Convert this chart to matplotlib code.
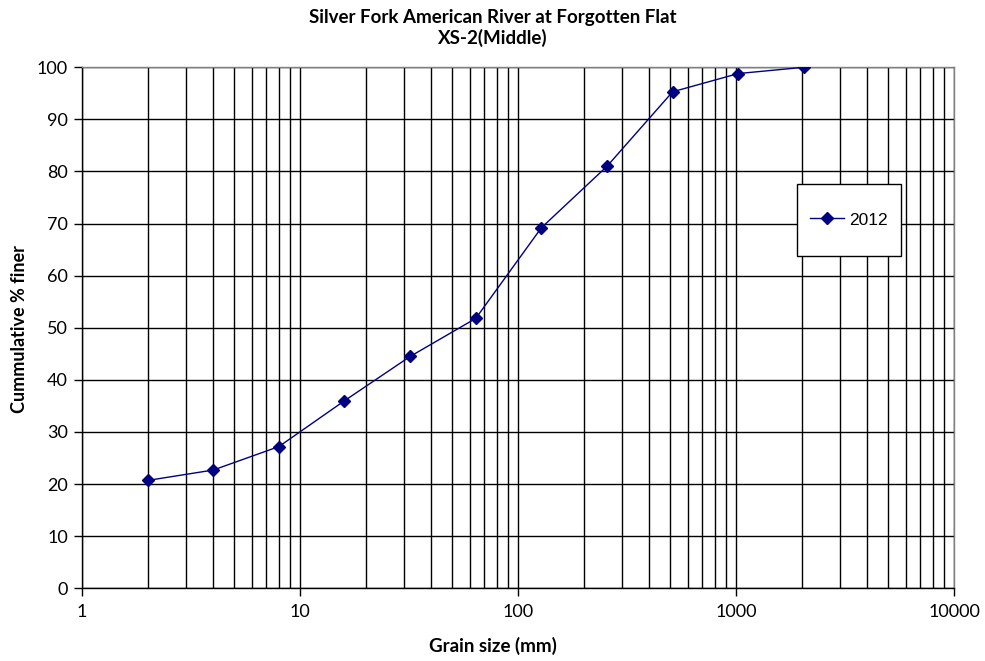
import matplotlib.pyplot as plt
from matplotlib.patches import Rectangle
from matplotlib.ticker import LogLocator, FixedLocator, NullFormatter

# grain size distribution, 2012 pebble count
grain_mm = [2, 4, 8, 16, 32, 64, 128, 256, 512, 1024, 2048]
pct_finer = [20.7, 22.7, 27.2, 36.0, 44.5, 51.8, 69.2, 81.0, 95.3, 98.8, 100.0]
series_name = '2012'
x_ticks = [1, 10, 100, 1000, 10000]
x_ticklabels = ['1', '10', '100', '1000', '10000']
y_ticks = list(range(0, 101, 10))

label_font = ['Lato', 'DejaVu Sans']
legend_font = ['Liberation Sans', 'DejaVu Sans']

fig = plt.figure(figsize=(9.85, 6.61), dpi=100)
ax = fig.add_axes([82 / 985, 1 - 588.3 / 661, (954 - 82) / 985, (588.3 - 67.3) / 661])

ax.set_xscale('log')
ax.set_xlim(1, 10000)
ax.set_ylim(0, 100)

ax.xaxis.set_major_locator(FixedLocator(x_ticks))
ax.set_xticks(x_ticks)
ax.set_xticklabels(x_ticklabels, family=label_font, fontsize=13)
ax.xaxis.set_minor_locator(LogLocator(base=10, subs=range(2, 10)))
ax.xaxis.set_minor_formatter(NullFormatter())
ax.set_yticks(y_ticks)
ax.set_yticklabels([str(v) for v in y_ticks], family=label_font, fontsize=13)

ax.tick_params(axis='x', which='major', direction='out', length=6, width=1, color='black', pad=5)
ax.tick_params(axis='x', which='minor', length=0)
ax.tick_params(axis='y', direction='out', length=6, width=1, color='black', pad=4)

ax.grid(True, which='major', axis='both', color='black', linewidth=1)
ax.grid(True, which='minor', axis='x', color='black', linewidth=1)
ax.set_axisbelow(True)
for s in ax.spines.values():
    s.set_color('#808080')
    s.set_linewidth(1)
ax.spines['left'].set_color('black')
ax.spines['bottom'].set_color('black')

ax.plot(grain_mm, pct_finer, color='#000080', linewidth=1, marker='D',
        markersize=6, label=series_name, zorder=3)

# legend box drawn separately so its padding can be wider than the entry
box = Rectangle((0.820, 0.638), 0.119, 0.138, transform=ax.transAxes,
                facecolor='white', edgecolor='black', linewidth=1, zorder=4)
ax.add_patch(box)
leg = ax.legend(loc='center', bbox_to_anchor=(0.8795, 0.707), frameon=False,
                borderpad=0, borderaxespad=0, handlelength=2.0, handletextpad=0.3,
                prop={'family': legend_font, 'size': 12.5})
leg.set_zorder(5)

fig.text(0.5, 1 - 28 / 661, 'Silver Fork American River at Forgotten Flat\nXS-2(Middle)',
         ha='center', va='center', fontsize=13.5, fontweight='bold',
         family=label_font, linespacing=1.2)
fig.text(0.5, 1 - 646 / 661, 'Grain size (mm)', ha='center', va='center',
         fontsize=13.5, fontweight='bold', family=label_font)
fig.text(20 / 985, 1 - 329 / 661, 'Cummulative % finer', ha='center', va='center',
         rotation=90, fontsize=13, fontweight='bold', family=label_font)

fig.savefig('out.png', dpi=100)
